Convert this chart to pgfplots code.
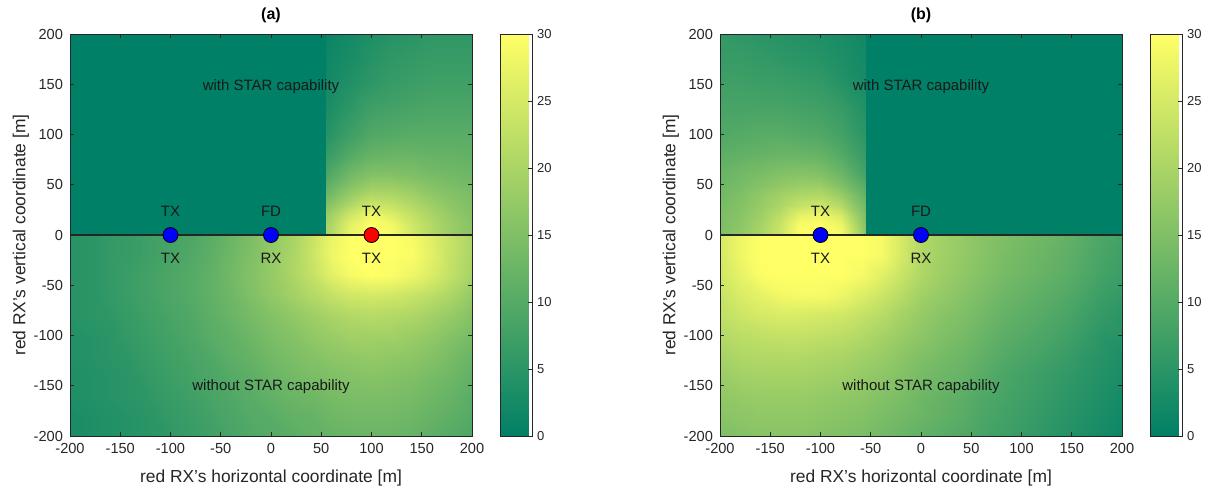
\documentclass[border=0pt]{standalone}
\usepackage{fontspec}
\setmainfont{Liberation Sans}
\usepackage{pgfplots}
\pgfplotsset{compat=1.18}

\definecolor{axgray}{rgb}{0.15,0.15,0.15}

\tikzset{lbl/.style={font=\fontsize{7.5}{9}\selectfont, text=black!90}}

\pgfplotsset{
  /pgf/number format/assume math mode=true,
  colormap={summer}{rgb=(0,0.5,0.4) rgb=(1,1,0.4)},
  heat/.style={
    scale only axis, width=201pt, height=201pt,
    xmin=-200, xmax=200, ymin=-200, ymax=200,
    xtick={-200,-150,...,200}, ytick={-200,-150,...,200},
    tick align=inside, major tick length=2pt,
    tick style={axgray, line width=0.4pt},
    axis line style={axgray, line width=0.4pt},
    axis on top,
    tick label style={font=\fontsize{7.3}{8}\selectfont, text=axgray},
    xlabel={red RX's horizontal coordinate [m]},
    ylabel={red RX's vertical coordinate [m]},
    label style={font=\fontsize{8.7}{10}\selectfont, text=axgray},
    xlabel style={yshift=-1.5pt},
    ylabel style={yshift=-4.5pt},
    title style={font=\bfseries\fontsize{8}{9}\selectfont, yshift=-4pt},
    colormap name=summer,
    point meta min=0, point meta max=30,
    colorbar,
    colorbar style={
      at={(parent axis.north east)}, anchor=north west, xshift=5.5pt,
      scale only axis, width=16pt, height=201pt,
      ytick={0,5,...,30}, ytick pos=right, yticklabel pos=right,
      tick align=inside, major tick length=2pt,
      axis line style={axgray, line width=0.4pt},
      tick label style={font=\fontsize{6.5}{7}\selectfont, text=axgray, xshift=-1pt},
    },
  },
  heatpatch/.style={surf, shader=interp, point meta=explicit, mesh/cols=#1},
  station/.style={only marks, mark=*, mark size=3.75pt,
    mark options={draw=black, line width=0.4pt}},
}

\begin{document}
\begin{tikzpicture}[x=1pt,y=1pt]
\path[use as bounding box] (0,0) rectangle (605.5,244.5);

% ---------------- (a) ----------------
\begin{axis}[heat, at={(35pt,26.5pt)}, anchor=south west, title={(a)}]
% lower half, without STAR
\addplot[heatpatch=21] coordinates {
(-200,-200)[3] (-180,-200)[3.5] (-160,-200)[4] (-140,-200)[4.5] (-120,-200)[5] (-100,-200)[5.5] (-80,-200)[6.5] (-60,-200)[7.5] (-40,-200)[8.5] (-20,-200)[9.5] (0,-200)[10] (20,-200)[10.5] (40,-200)[11.5] (60,-200)[12] (80,-200)[12.5] (100,-200)[12.5] (120,-200)[12.5] (140,-200)[12] (160,-200)[11] (180,-200)[10] (200,-200)[9]
(-200,-180)[3] (-180,-180)[3.5] (-160,-180)[4] (-140,-180)[4.5] (-120,-180)[5] (-100,-180)[6] (-80,-180)[7] (-60,-180)[8] (-40,-180)[9] (-20,-180)[10] (0,-180)[10.5] (20,-180)[11.5] (40,-180)[12] (60,-180)[13] (80,-180)[13.5] (100,-180)[13.5] (120,-180)[13.5] (140,-180)[13] (160,-180)[12] (180,-180)[11] (200,-180)[10]
(-200,-160)[3.5] (-180,-160)[4] (-160,-160)[4.5] (-140,-160)[5] (-120,-160)[5.5] (-100,-160)[6.5] (-80,-160)[7.5] (-60,-160)[8.5] (-40,-160)[9.5] (-20,-160)[10.5] (0,-160)[11.5] (20,-160)[12.5] (40,-160)[13] (60,-160)[14] (80,-160)[14.5] (100,-160)[14.5] (120,-160)[14.5] (140,-160)[14] (160,-160)[13] (180,-160)[12] (200,-160)[10.5]
(-200,-140)[3.5] (-180,-140)[4] (-160,-140)[4.5] (-140,-140)[5] (-120,-140)[6] (-100,-140)[7] (-80,-140)[8] (-60,-140)[9] (-40,-140)[10] (-20,-140)[11] (0,-140)[12.5] (20,-140)[13.5] (40,-140)[14.5] (60,-140)[15] (80,-140)[15.5] (100,-140)[16] (120,-140)[15.5] (140,-140)[15] (160,-140)[14] (180,-140)[13] (200,-140)[11.5]
(-200,-120)[4] (-180,-120)[4.5] (-160,-120)[5] (-140,-120)[5.5] (-120,-120)[6.5] (-100,-120)[7.5] (-80,-120)[8.5] (-60,-120)[9.5] (-40,-120)[11] (-20,-120)[12] (0,-120)[13.5] (20,-120)[14.5] (40,-120)[15.5] (60,-120)[16.5] (80,-120)[17] (100,-120)[17.5] (120,-120)[17] (140,-120)[16.5] (160,-120)[15.5] (180,-120)[14] (200,-120)[12.5]
(-200,-100)[4] (-180,-100)[4.5] (-160,-100)[5] (-140,-100)[6] (-120,-100)[7] (-100,-100)[8] (-80,-100)[9] (-60,-100)[10.5] (-40,-100)[11.5] (-20,-100)[13] (0,-100)[14.5] (20,-100)[15.5] (40,-100)[17] (60,-100)[18] (80,-100)[19] (100,-100)[19] (120,-100)[19] (140,-100)[18] (160,-100)[17] (180,-100)[15.5] (200,-100)[14]
(-200,-80)[4.5] (-180,-80)[5] (-160,-80)[5.5] (-140,-80)[6.5] (-120,-80)[7.5] (-100,-80)[8.5] (-80,-80)[9.5] (-60,-80)[11] (-40,-80)[12.5] (-20,-80)[14] (0,-80)[15.5] (20,-80)[17] (40,-80)[18.5] (60,-80)[20] (80,-80)[21] (100,-80)[21.5] (120,-80)[21] (140,-80)[20.5] (160,-80)[19] (180,-80)[17.5] (200,-80)[15.5]
(-200,-60)[4.5] (-180,-60)[5] (-160,-60)[6] (-140,-60)[7] (-120,-60)[8] (-100,-60)[9] (-80,-60)[10] (-60,-60)[11.5] (-40,-60)[13] (-20,-60)[15] (0,-60)[17] (20,-60)[19] (40,-60)[21] (60,-60)[23] (80,-60)[24.5] (100,-60)[25] (120,-60)[24.5] (140,-60)[23.5] (160,-60)[22] (180,-60)[20] (200,-60)[17.5]
(-200,-40)[4.5] (-180,-40)[5] (-160,-40)[6] (-140,-40)[7] (-120,-40)[8] (-100,-40)[9] (-80,-40)[10] (-60,-40)[11.5] (-40,-40)[13.5] (-20,-40)[15.5] (0,-40)[17.5] (20,-40)[20] (40,-40)[23] (60,-40)[26.5] (80,-40)[29] (100,-40)[30] (120,-40)[29.5] (140,-40)[28] (160,-40)[25.5] (180,-40)[22.5] (200,-40)[19.5]
(-200,-20)[4.5] (-180,-20)[5] (-160,-20)[6] (-140,-20)[6.5] (-120,-20)[7.5] (-100,-20)[8.5] (-80,-20)[9.5] (-60,-20)[11] (-40,-20)[13] (-20,-20)[15] (0,-20)[17.5] (20,-20)[20] (40,-20)[23.5] (60,-20)[28] (80,-20)[30] (100,-20)[30] (120,-20)[30] (140,-20)[29.5] (160,-20)[26.5] (180,-20)[23] (200,-20)[20]
(-200,0)[4.5] (-180,0)[5] (-160,0)[6] (-140,0)[6.5] (-120,0)[7.5] (-100,0)[8] (-80,0)[9] (-60,0)[10.5] (-40,0)[12.5] (-20,0)[14.5] (0,0)[17] (20,0)[19.5] (40,0)[23] (60,0)[27.5] (80,0)[30] (100,0)[30] (120,0)[30] (140,0)[29] (160,0)[26] (180,0)[23] (200,0)[20]
};
% upper half, with STAR: zero left of x=55
\addplot[heatpatch=2] coordinates {
(-200,0)[0] (55,0)[0]
(-200,200)[0] (55,200)[0]
};
% upper half, with STAR: right of x=55
\addplot[heatpatch=9] coordinates {
(55,0)[20] (60,0)[21] (80,0)[28] (100,0)[30] (120,0)[29] (140,0)[25] (160,0)[21] (180,0)[18] (200,0)[16]
(55,10)[19.5] (60,10)[20.5] (80,10)[27] (100,10)[30] (120,10)[28.5] (140,10)[24.5] (160,10)[21] (180,10)[18] (200,10)[16]
(55,20)[18] (60,20)[19] (80,20)[24.5] (100,20)[28.5] (120,20)[26] (140,20)[23] (160,20)[20] (180,20)[17.5] (200,20)[15.5]
(55,30)[15.5] (60,30)[16.5] (80,30)[21] (100,30)[24.5] (120,30)[23] (140,30)[21] (160,30)[18.5] (180,30)[16.5] (200,30)[15]
(55,40)[13] (60,40)[14] (80,40)[18] (100,40)[21] (120,40)[20.5] (140,40)[19] (160,40)[17] (180,40)[15.5] (200,40)[14.5]
(55,50)[11] (60,50)[12] (80,50)[15.5] (100,50)[18] (120,50)[18] (140,50)[17] (160,50)[15.5] (180,50)[14.5] (200,50)[13.5]
(55,60)[9] (60,60)[10] (80,60)[13.5] (100,60)[15.5] (120,60)[15.5] (140,60)[15] (160,60)[14] (180,60)[13.5] (200,60)[13]
(55,80)[6.5] (60,80)[7] (80,80)[10] (100,80)[12] (120,80)[12.5] (140,80)[12.5] (160,80)[12] (180,80)[12] (200,80)[11.5]
(55,100)[4.5] (60,100)[5] (80,100)[7.5] (100,100)[9.5] (120,100)[10] (140,100)[10.5] (160,100)[10.5] (180,100)[10.5] (200,100)[10.5]
(55,125)[3] (60,125)[3.5] (80,125)[5.5] (100,125)[7.5] (120,125)[8] (140,125)[8.5] (160,125)[9] (180,125)[9] (200,125)[9]
(55,150)[2] (60,150)[2.5] (80,150)[4] (100,150)[5.5] (120,150)[6.5] (140,150)[7] (160,150)[7.5] (180,150)[7.5] (200,150)[7.5]
(55,175)[1.5] (60,175)[2] (80,175)[3] (100,175)[4.5] (120,175)[5.5] (140,175)[6] (160,175)[6.5] (180,175)[6.5] (200,175)[6.5]
(55,200)[1] (60,200)[1.5] (80,200)[2.5] (100,200)[3.5] (120,200)[4.5] (140,200)[5] (160,200)[5.5] (180,200)[5.5] (200,200)[5.5]
};
\addplot[axgray, line width=0.8pt] coordinates {(-200,0) (200,0)};
\addplot[station, fill=blue] coordinates {(-100,0) (0,0)};
\addplot[station, fill=red] coordinates {(100,0)};
\node[lbl] at (axis cs:-100,24) {TX};
\node[lbl] at (axis cs:-100,-23) {TX};
\node[lbl] at (axis cs:0,24) {FD};
\node[lbl] at (axis cs:0,-23) {RX};
\node[lbl] at (axis cs:100,24) {TX};
\node[lbl] at (axis cs:100,-23) {TX};
\node[lbl] at (axis cs:0,148) {with STAR capability};
\node[lbl] at (axis cs:0,-151) {without STAR capability};
\end{axis}

% ---------------- (b) ----------------
\begin{axis}[heat, at={(360pt,26.5pt)}, anchor=south west, title={(b)}]
% lower half, without STAR
\addplot[heatpatch=21] coordinates {
(-200,-200)[15] (-180,-200)[15.5] (-160,-200)[16] (-140,-200)[16] (-120,-200)[16] (-100,-200)[15.5] (-80,-200)[15] (-60,-200)[14.5] (-40,-200)[13.5] (-20,-200)[12.5] (0,-200)[11.5] (20,-200)[10.5] (40,-200)[9.5] (60,-200)[8.5] (80,-200)[7.5] (100,-200)[6.5] (120,-200)[5.5] (140,-200)[4.5] (160,-200)[3.5] (180,-200)[2.5] (200,-200)[1.5]
(-200,-180)[16] (-180,-180)[16.5] (-160,-180)[17] (-140,-180)[17] (-120,-180)[17] (-100,-180)[16.5] (-80,-180)[16] (-60,-180)[15.5] (-40,-180)[14.5] (-20,-180)[13.5] (0,-180)[12.5] (20,-180)[11.5] (40,-180)[10.5] (60,-180)[9] (80,-180)[8] (100,-180)[7] (120,-180)[6] (140,-180)[5] (160,-180)[4] (180,-180)[3] (200,-180)[2]
(-200,-160)[17] (-180,-160)[17.5] (-160,-160)[18] (-140,-160)[18] (-120,-160)[18] (-100,-160)[17.5] (-80,-160)[17] (-60,-160)[16.5] (-40,-160)[15.5] (-20,-160)[14.5] (0,-160)[13] (20,-160)[12] (40,-160)[11] (60,-160)[9.5] (80,-160)[8.5] (100,-160)[7.5] (120,-160)[6.5] (140,-160)[5.5] (160,-160)[4.5] (180,-160)[3.5] (200,-160)[2.5]
(-200,-140)[18] (-180,-140)[19] (-160,-140)[19.5] (-140,-140)[19.5] (-120,-140)[19.5] (-100,-140)[19] (-80,-140)[18.5] (-60,-140)[17.5] (-40,-140)[16.5] (-20,-140)[15.5] (0,-140)[14] (20,-140)[13] (40,-140)[12] (60,-140)[10.5] (80,-140)[9] (100,-140)[8] (120,-140)[7] (140,-140)[6] (160,-140)[5] (180,-140)[4] (200,-140)[3]
(-200,-120)[19.5] (-180,-120)[20.5] (-160,-120)[21] (-140,-120)[21] (-120,-120)[21] (-100,-120)[20.5] (-80,-120)[20] (-60,-120)[19] (-40,-120)[18] (-20,-120)[16.5] (0,-120)[15] (20,-120)[14] (40,-120)[13] (60,-120)[11.5] (80,-120)[10] (100,-120)[9] (120,-120)[8] (140,-120)[7] (160,-120)[5.5] (180,-120)[4.5] (200,-120)[3.5]
(-200,-100)[21] (-180,-100)[22] (-160,-100)[22.5] (-140,-100)[23] (-120,-100)[23] (-100,-100)[22.5] (-80,-100)[22] (-60,-100)[21] (-40,-100)[19.5] (-20,-100)[18] (0,-100)[16.5] (20,-100)[15] (40,-100)[14] (60,-100)[12.5] (80,-100)[11] (100,-100)[10] (120,-100)[9] (140,-100)[8] (160,-100)[6.5] (180,-100)[5] (200,-100)[4.5]
(-200,-80)[22.5] (-180,-80)[24] (-160,-80)[25] (-140,-80)[25.5] (-120,-80)[25.5] (-100,-80)[25] (-80,-80)[24.5] (-60,-80)[23] (-40,-80)[21.5] (-20,-80)[19.5] (0,-80)[17.5] (20,-80)[16] (40,-80)[15] (60,-80)[13.5] (80,-80)[12] (100,-80)[11] (120,-80)[10] (140,-80)[9] (160,-80)[7.5] (180,-80)[6] (200,-80)[5]
(-200,-60)[23.5] (-180,-60)[25.5] (-160,-60)[27] (-140,-60)[28.5] (-120,-60)[29] (-100,-60)[29] (-80,-60)[28] (-60,-60)[26] (-40,-60)[24] (-20,-60)[21.5] (0,-60)[19] (20,-60)[17.5] (40,-60)[16] (60,-60)[14.5] (80,-60)[13] (100,-60)[12] (120,-60)[11] (140,-60)[10] (160,-60)[8.5] (180,-60)[7] (200,-60)[6]
(-200,-40)[24.5] (-180,-40)[27] (-160,-40)[29.5] (-140,-40)[30] (-120,-40)[30] (-100,-40)[30] (-80,-40)[30] (-60,-40)[29] (-40,-40)[26.5] (-20,-40)[23.5] (0,-40)[20.5] (20,-40)[18.5] (40,-40)[17] (60,-40)[15.5] (80,-40)[14] (100,-40)[13] (120,-40)[12] (140,-40)[11] (160,-40)[9.5] (180,-40)[8] (200,-40)[7]
(-200,-20)[25] (-180,-20)[28] (-160,-20)[30] (-140,-20)[30] (-120,-20)[30] (-100,-20)[30] (-80,-20)[30] (-60,-20)[30] (-40,-20)[29] (-20,-20)[25] (0,-20)[21] (20,-20)[19] (40,-20)[17.5] (60,-20)[16] (80,-20)[14.5] (100,-20)[13.5] (120,-20)[12.5] (140,-20)[11.5] (160,-20)[10] (180,-20)[8.5] (200,-20)[7.5]
(-200,0)[25] (-180,0)[28] (-160,0)[30] (-140,0)[30] (-120,0)[30] (-100,0)[30] (-80,0)[30] (-60,0)[30] (-40,0)[29] (-20,0)[25] (0,0)[21] (20,0)[19] (40,0)[17.5] (60,0)[16] (80,0)[15] (100,0)[14] (120,0)[13] (140,0)[12] (160,0)[10.5] (180,0)[9] (200,0)[8]
};
% upper half, with STAR: left of x=-55
\addplot[heatpatch=9] coordinates {
(-200,0)[15] (-180,0)[17] (-160,0)[20] (-140,0)[24] (-120,0)[30] (-100,0)[30] (-80,0)[29] (-60,0)[19] (-55,0)[16]
(-200,10)[14.5] (-180,10)[16.5] (-160,10)[19.5] (-140,10)[23.5] (-120,10)[29.5] (-100,10)[30] (-80,10)[28] (-60,10)[18] (-55,10)[15.5]
(-200,20)[14.5] (-180,20)[16] (-160,20)[18.5] (-140,20)[22] (-120,20)[27] (-100,20)[28] (-80,20)[25] (-60,20)[16.5] (-55,20)[14.5]
(-200,30)[14] (-180,30)[15.5] (-160,30)[17.5] (-140,30)[20] (-120,30)[23] (-100,30)[24] (-80,30)[21] (-60,30)[14.5] (-55,30)[13]
(-200,40)[13.5] (-180,40)[15] (-160,40)[17] (-140,40)[19] (-120,40)[20.5] (-100,40)[21] (-80,40)[18] (-60,40)[13] (-55,40)[11.5]
(-200,50)[13] (-180,50)[14] (-160,50)[15.5] (-140,50)[17] (-120,50)[18] (-100,50)[18] (-80,50)[15] (-60,50)[11] (-55,50)[10]
(-200,60)[12.5] (-180,60)[13.5] (-160,60)[14.5] (-140,60)[15.5] (-120,60)[16] (-100,60)[15.5] (-80,60)[13] (-60,60)[9] (-55,60)[8]
(-200,80)[11] (-180,80)[11.5] (-160,80)[12] (-140,80)[12.5] (-120,80)[12.5] (-100,80)[12] (-80,80)[10] (-60,80)[7] (-55,80)[6.5]
(-200,100)[9.5] (-180,100)[10] (-160,100)[10.5] (-140,100)[10.5] (-120,100)[10] (-100,100)[9.5] (-80,100)[8] (-60,100)[5.5] (-55,100)[5]
(-200,125)[8.5] (-180,125)[8.5] (-160,125)[8.5] (-140,125)[8.5] (-120,125)[8] (-100,125)[7.5] (-80,125)[6.5] (-60,125)[4.5] (-55,125)[4]
(-200,150)[7.5] (-180,150)[7.5] (-160,150)[7] (-140,150)[7] (-120,150)[6.5] (-100,150)[6] (-80,150)[4.5] (-60,150)[3] (-55,150)[3]
(-200,175)[6.5] (-180,175)[6.5] (-160,175)[6] (-140,175)[5.5] (-120,175)[5] (-100,175)[4.5] (-80,175)[3.5] (-60,175)[2.5] (-55,175)[2.5]
(-200,200)[6] (-180,200)[5.5] (-160,200)[5] (-140,200)[4.5] (-120,200)[4] (-100,200)[3.5] (-80,200)[3] (-60,200)[2] (-55,200)[2]
};
% upper half, with STAR: zero right of x=-55
\addplot[heatpatch=2] coordinates {
(-55,0)[0] (200,0)[0]
(-55,200)[0] (200,200)[0]
};
\addplot[axgray, line width=0.8pt] coordinates {(-200,0) (200,0)};
\addplot[station, fill=blue] coordinates {(-100,0) (0,0)};
\node[lbl] at (axis cs:-100,24) {TX};
\node[lbl] at (axis cs:-100,-23) {TX};
\node[lbl] at (axis cs:0,24) {FD};
\node[lbl] at (axis cs:0,-23) {RX};
\node[lbl] at (axis cs:0,148) {with STAR capability};
\node[lbl] at (axis cs:0,-151) {without STAR capability};
\end{axis}
\end{tikzpicture}
\end{document}
